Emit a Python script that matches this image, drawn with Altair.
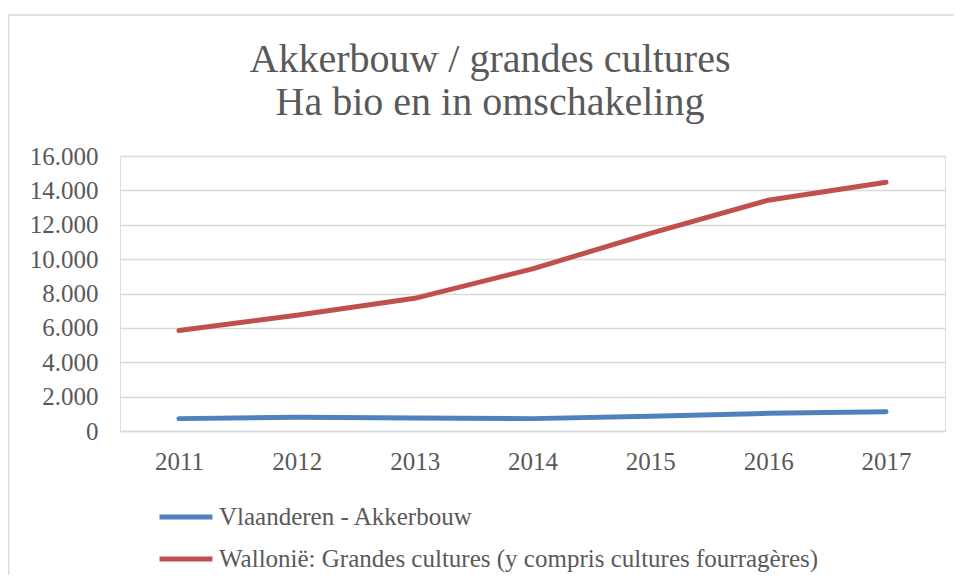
import altair as alt
import pandas as pd

years = ["2011", "2012", "2013", "2014", "2015", "2016", "2017"]
vlaanderen = [720, 800, 760, 720, 860, 1030, 1120]
wallonie = [5850, 6730, 7720, 9430, 11500, 13430, 14470]
series_names = ["Vlaanderen - Akkerbouw",
                "Wallonië: Grandes cultures (y compris cultures fourragères)"]
series_colors = ["#4f81bd", "#c0504d"]
y_ticks = [0, 2000, 4000, 6000, 8000, 10000, 12000, 14000, 16000]
title_lines = ["Akkerbouw / grandes cultures", "Ha bio en in omschakeling"]

rows = []
for y, v in zip(years, vlaanderen):
    rows.append({"year": y, "value": v, "series": series_names[0]})
for y, v in zip(years, wallonie):
    rows.append({"year": y, "value": v, "series": series_names[1]})
df = pd.DataFrame(rows)

FONT = "Liberation Serif"
GREY = "#595959"

lines = alt.Chart(df).mark_line(strokeWidth=5, strokeCap="round", strokeJoin="round").encode(
    x=alt.X("year:O", scale=alt.Scale(type="point", padding=0.5),
            axis=alt.Axis(title=None, labelAngle=0, ticks=False, domain=True,
                          domainColor="#d9d9d9", domainWidth=1.5,
                          labelPadding=18, labelFontSize=25, labelColor=GREY,
                          labelFont=FONT, grid=False)),
    y=alt.Y("value:Q", scale=alt.Scale(domain=[0, 16000], nice=False),
            axis=alt.Axis(title=None, values=y_ticks, ticks=False, domain=False,
                          gridColor="#d9d9d9", gridWidth=1.5,
                          labelPadding=22, labelFontSize=25, labelColor=GREY,
                          labelFont=FONT,
                          labelExpr="replace(format(datum.value, ','), ',', '.')")),
    color=alt.Color("series:N",
                    scale=alt.Scale(domain=series_names, range=series_colors),
                    sort=series_names,
                    legend=alt.Legend(title=None, orient="none", direction="vertical",
                                      legendX=37, legendY=332,
                                      symbolType="stroke", symbolSize=2800,
                                      symbolStrokeWidth=5, labelOffset=4,
                                      labelFontSize=25, labelColor=GREY,
                                      labelFont=FONT, rowPadding=-15,
                                      labelLimit=800)),
)

border = alt.Chart(pd.DataFrame({"a": [0]})).mark_rect(
    filled=False, stroke="#d9d9d9", strokeWidth=1.5
).encode(
    x=alt.value(-111.5), x2=alt.value(900), y=alt.value(-141), y2=alt.value(500)
)

title_df = pd.DataFrame({"line": title_lines})
title1 = alt.Chart(title_df).transform_filter(
    alt.datum.line == title_lines[0]
).mark_text(font=FONT, fontSize=40, color=GREY, align="center", baseline="alphabetic").encode(
    text="line:N", x=alt.value(370), y=alt.value(-84)
)
title2 = alt.Chart(title_df).transform_filter(
    alt.datum.line == title_lines[1]
).mark_text(font=FONT, fontSize=40, color=GREY, align="center", baseline="alphabetic").encode(
    text="line:N", x=alt.value(370), y=alt.value(-41)
)

chart = alt.layer(border, title1, title2, lines).properties(
    width=825,
    height=275,
    autosize=alt.AutoSizeParams(type="none"),
    padding={"left": 112, "top": 148, "right": 9, "bottom": 144},
).configure_view(stroke=None).configure(background="white")

chart.save("out.html", embed_options={"renderer": "svg", "actions": False})
